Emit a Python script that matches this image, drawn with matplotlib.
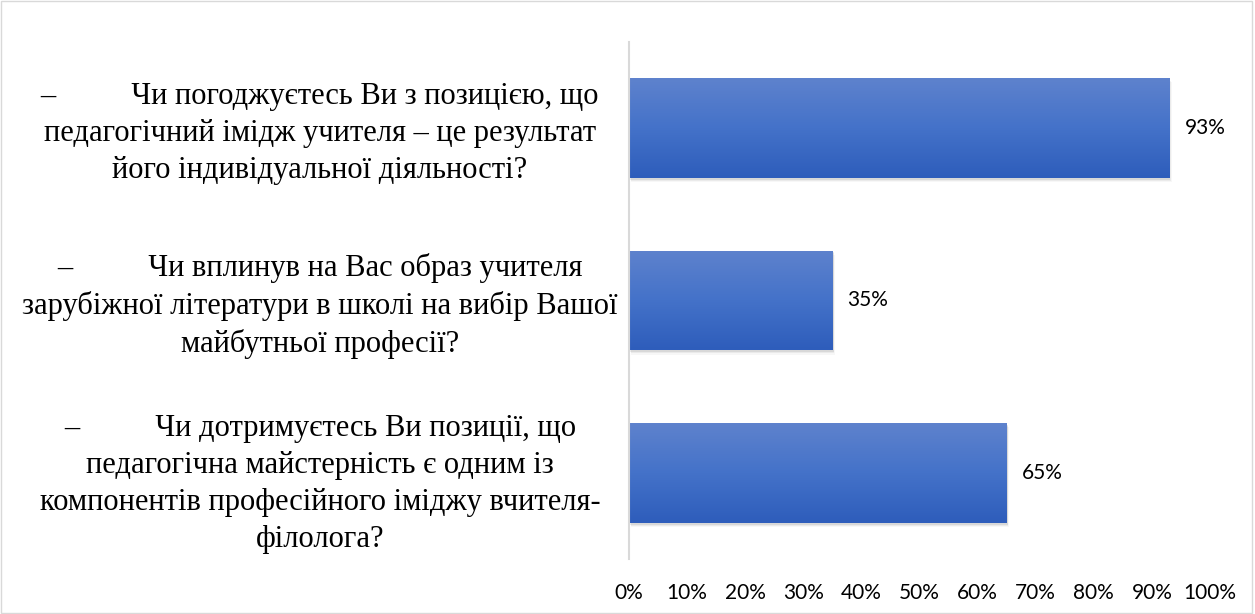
import numpy as np
import matplotlib.pyplot as plt
from matplotlib.colors import LinearSegmentedColormap
from matplotlib.patches import Rectangle

questions = [
    "–          Чи погоджуєтесь Ви з позицією, що\nпедагогічний імідж учителя – це результат\nйого індивідуальної діяльності?",
    "–          Чи вплинув на Вас образ учителя\nзарубіжної літератури в школі на вибір Вашої\nмайбутньої професії?",
    "–          Чи дотримуєтесь Ви позиції, що\nпедагогічна майстерність є одним із\nкомпонентів професійного іміджу вчителя-\nфілолога?",
]
shares = [0.93, 0.35, 0.65]
ticks = [i / 10 for i in range(11)]
tick_labels = [f"{int(t * 100)}%" for t in ticks]

W, H = 1255, 614
fig = plt.figure(figsize=(W / 100, H / 100), dpi=100)
ax = fig.add_axes([629 / W, 1 - 559 / H, (1210 - 629) / W, (559 - 42) / H])

grad = LinearSegmentedColormap.from_list("bar", ["#2E5DBB", "#4472C9", "#5E82CD"])
ypos = np.arange(len(shares))[::-1]
bar_h = 0.58

for y, v in zip(ypos, shares):
    # soft shadow under the bar
    for k, a in enumerate([0.08, 0.05, 0.03]):
        ax.add_patch(Rectangle((0.002 + 0.001 * k, y - bar_h / 2 - 0.01 - 0.007 * k), v, bar_h,
                               facecolor="black", alpha=a, edgecolor="none", zorder=1))
    rect = Rectangle((0, y - bar_h / 2), v, bar_h, facecolor="none", edgecolor="none", zorder=2)
    ax.add_patch(rect)
    img = ax.imshow(np.linspace(0, 1, 100).reshape(-1, 1), cmap=grad, aspect="auto",
                    extent=(0, v, y - bar_h / 2, y + bar_h / 2), origin="lower", zorder=2)
    img.set_clip_path(rect)
    ax.annotate(f"{int(round(v * 100))}%", (v, y), xytext=(11, 0), textcoords="offset points",
                ha="left", va="center", fontsize=15, family="Lato", color="#000000")

for q in questions:
    fig.text(320 / W, 0.5, q, ha="center", va="center", fontsize=22,
             family="Liberation Serif", linespacing=1.36)

ax.set_xlim(0, 1)
ax.set_ylim(-0.5, 2.5)
ax.set_xticks(ticks)
ax.set_xticklabels(tick_labels, family="Lato", fontsize=15)
ax.set_yticks([])
ax.tick_params(axis="x", length=0, pad=17)
for s in ["top", "right", "bottom"]:
    ax.spines[s].set_visible(False)
ax.spines["left"].set_color("#D9D9D9")
ax.spines["left"].set_linewidth(1.5)

# position question texts at bar centres (figure coords)
fig.canvas.draw()
for t, y in zip(fig.texts, ypos):
    yy = ax.transData.transform((0, y))[1] / H
    t.set_y(yy + (-0.018 if y == 0 else -0.009))

fig.add_artist(Rectangle((0.001, 0.002), 0.997, 0.996, transform=fig.transFigure,
                         facecolor="none", edgecolor="#D9D9D9", linewidth=1))

fig.savefig("out.png", dpi=100)
